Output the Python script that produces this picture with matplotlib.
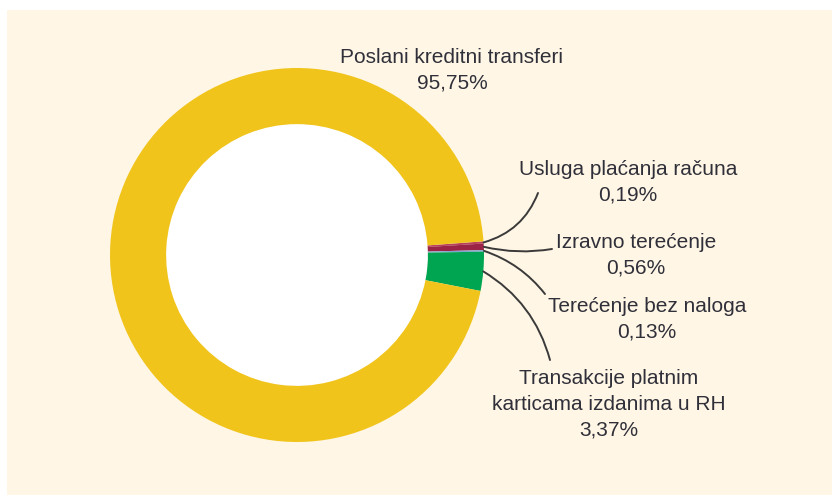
import numpy as np
import matplotlib
matplotlib.use("Agg")
import matplotlib.pyplot as plt
from matplotlib.patches import Rectangle, Circle

# shares of payment transactions (%), clockwise from the right edge
labels = ["Usluga plaćanja računa", "Izravno terećenje", "Terećenje bez naloga",
          "Transakcije platnim\nkarticama izdanima u RH", "Poslani kreditni transferi"]
values = [0.19, 0.56, 0.13, 3.37, 95.75]
value_text = ["0,19%", "0,56%", "0,13%", "3,37%", "95,75%"]
colors = ["#b8405f", "#9a2346", "#7fa6d2", "#00a551", "#f0c41b"]

W, H = 832, 498
BG = "#fff6e5"
TXT = "#30303a"

fig = plt.figure(figsize=(W / 100, H / 100), dpi=100)
ax = fig.add_axes([0, 0, 1, 1])
ax.set_xlim(0, W); ax.set_ylim(0, H); ax.set_aspect("equal"); ax.axis("off")
ax.add_patch(Rectangle((7, 3), W - 7, H - 13, facecolor=BG, edgecolor="none", zorder=0))

cx, cy, R = 297, 243, 187
wedges, _ = ax.pie(values, colors=colors, startangle=4.2, counterclock=False,
                   center=(cx, cy), radius=R, frame=True,
                   wedgeprops=dict(width=R * 0.30, edgecolor="none"))
ax.add_patch(Circle((cx, cy), R * 0.70, facecolor="white", edgecolor="none", zorder=0.5))
ax.set_xlim(0, W); ax.set_ylim(0, H); ax.axis("off")

# label text anchor (centre of block) and end of leader line, in pixel-from-bottom coords
text_pos = [(628, 316), (636, 243), (647, 179), (609, 94)]
line_end = [(538, 305), (552, 249), (545, 204), (550, 138)]
curve = [-0.25, -0.1, 0.15, 0.2]

font = dict(family="Liberation Sans", fontsize=15, color=TXT, linespacing=1.45)
for w, lab, vt, tp, le, rad in zip(wedges, labels, value_text, text_pos, line_end, curve):
    a = np.deg2rad((w.theta1 + w.theta2) / 2)
    start = (cx + R * np.cos(a), cy + R * np.sin(a))
    ax.annotate("", xy=start, xytext=le,
                arrowprops=dict(arrowstyle="-", color="#3a3a3a", lw=1.4,
                                connectionstyle=f"arc3,rad={rad}", shrinkA=0, shrinkB=0))
    ax.text(tp[0], tp[1], f"{lab}\n{vt}", ha="center", va="center", **font)

ax.text(452, 428, f"{labels[4]}\n{value_text[4]}", ha="center", va="center", **font)

fig.savefig("out.png", dpi=100)
